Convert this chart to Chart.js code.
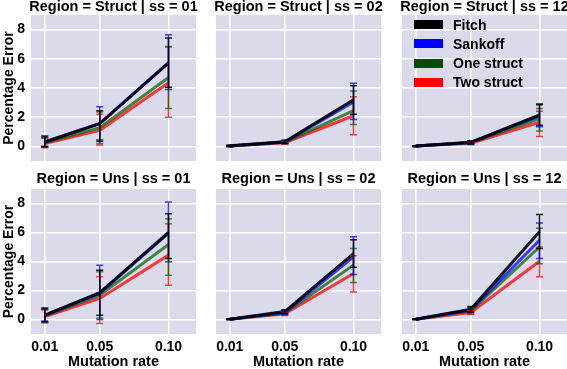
<!DOCTYPE html>
<html>
<head>
<meta charset="utf-8">
<script src="https://cdn.jsdelivr.net/npm/chart.js@4.4.0/dist/chart.umd.min.js"></script>
<style>
html,body{margin:0;padding:0;background:#ffffff;width:567px;height:369px;overflow:hidden;}
#wrap{position:relative;width:567px;height:369px;}
#wrap canvas{position:absolute;left:0;top:0;z-index:1;}
#legend{position:absolute;left:414px;top:0px;z-index:5;font:bold 14px "Liberation Sans",Arial,Helvetica,sans-serif;color:#000;}
.lrow{position:absolute;left:0;height:18px;width:130px;}
.sw{position:absolute;left:0;top:4.5px;width:29px;height:9px;}
.lb{position:absolute;left:39px;top:0;line-height:18px;white-space:nowrap;}
</style>
</head>
<body>
<div id="wrap"><div id="legend"></div></div>
<script>
// ---------- data ----------
const mutationRates = [0.01, 0.05, 0.10];
const xTickLabels = ['0.01', '0.05', '0.10'];
const yTickValues = [0, 2, 4, 6, 8];
const seriesNames = ['Fitch', 'Sankoff', 'One struct', 'Two struct'];
const regions = ['Struct', 'Uns'];
const ssLabels = ['01', '02', '12'];

// rows: Fitch, Sankoff, One struct, Two struct ; columns: mutation rates
const structSs01Mean = [[0.30, 1.55, 5.72], [0.30, 1.58, 5.74], [0.25, 1.28, 4.72], [0.20, 1.10, 4.36]];
const structSs01Low  = [[0.00, 0.35, 4.05], [0.00, 0.45, 3.90], [-0.05, 0.20, 2.60], [-0.10, 0.10, 2.00]];
const structSs01High = [[0.72, 2.45, 7.42], [0.65, 2.72, 7.65], [0.60, 2.35, 6.85], [0.55, 2.20, 6.80]];

const structSs02Mean = [[0.04, 0.32, 3.20], [0.03, 0.30, 3.05], [0.03, 0.28, 2.45], [0.02, 0.25, 2.10]];
const structSs02Low  = [[0.00, 0.22, 2.20], [0.00, 0.20, 1.85], [0.00, 0.18, 1.50], [0.00, 0.15, 0.80]];
const structSs02High = [[0.08, 0.42, 4.15], [0.07, 0.40, 4.33], [0.07, 0.38, 3.80], [0.06, 0.35, 3.40]];

const structSs12Mean = [[0.02, 0.28, 2.15], [0.02, 0.27, 2.10], [0.02, 0.25, 1.90], [0.02, 0.22, 1.65]];
const structSs12Low  = [[0.00, 0.18, 1.45], [0.00, 0.17, 1.35], [0.00, 0.15, 1.05], [0.00, 0.12, 0.68]];
const structSs12High = [[0.05, 0.38, 2.85], [0.05, 0.37, 2.92], [0.05, 0.35, 2.60], [0.05, 0.32, 2.40]];

const unsSs01Mean = [[0.30, 1.85, 6.00], [0.28, 1.80, 5.95], [0.25, 1.68, 5.17], [0.20, 1.45, 4.44]];
const unsSs01Low  = [[-0.15, 0.30, 4.20], [-0.10, 0.00, 3.98], [-0.20, 0.10, 3.05], [-0.23, -0.28, 2.37]];
const unsSs01High = [[0.80, 3.40, 7.30], [0.70, 3.75, 8.10], [0.75, 3.30, 6.95], [0.65, 2.95, 6.60]];

const unsSs02Mean = [[0.02, 0.55, 4.55], [0.02, 0.48, 4.32], [0.02, 0.45, 3.75], [0.02, 0.40, 3.17]];
const unsSs02Low  = [[0.00, 0.42, 3.60], [0.00, 0.36, 3.10], [0.00, 0.33, 2.55], [0.00, 0.28, 1.90]];
const unsSs02High = [[0.05, 0.68, 5.50], [0.05, 0.60, 5.70], [0.05, 0.57, 4.90], [0.05, 0.52, 4.40]];

const unsSs12Mean = [[0.02, 0.70, 6.05], [0.02, 0.65, 5.47], [0.02, 0.60, 5.00], [0.02, 0.48, 4.02]];
const unsSs12Low  = [[0.00, 0.50, 4.90], [0.00, 0.50, 4.20], [0.00, 0.42, 3.85], [0.00, 0.35, 2.95]];
const unsSs12High = [[0.05, 0.90, 7.25], [0.05, 0.82, 6.65], [0.05, 0.78, 6.30], [0.05, 0.62, 5.00]];

const panelMeans = [[structSs01Mean, structSs02Mean, structSs12Mean], [unsSs01Mean, unsSs02Mean, unsSs12Mean]];
const panelLows  = [[structSs01Low, structSs02Low, structSs12Low], [unsSs01Low, unsSs02Low, unsSs12Low]];
const panelHighs = [[structSs01High, structSs02High, structSs12High], [unsSs01High, unsSs02High, unsSs12High]];

// ---------- style ----------
const LINE_COLORS = ['rgba(0,0,0,0.88)', 'rgba(0,0,255,0.75)', 'rgba(0,100,0,0.72)', 'rgba(255,0,0,0.75)'];
const SWATCH_COLORS = ['#000000', '#0000ff', '#0b4a0b', '#ff0000'];
const BG = '#dadaea';
const FONT_FAMILY = '"Liberation Sans", Arial, Helvetica, sans-serif';
const W = 567, H = 369;
const COL_LEFT = [31, 216, 402];
const COL_RIGHT = [196, 381, 567];
const ROW_TOP = [15, 189];
const ROW_BOTTOM = [161, 334];
const TITLE_OFFSET = [8, 10.5];

const bgPlugin = {
  id: 'panelBg',
  beforeDraw(chart) {
    const a = chart.chartArea, ctx = chart.ctx;
    ctx.save();
    ctx.fillStyle = BG;
    ctx.fillRect(a.left, a.top, a.right - a.left, a.bottom - a.top);
    ctx.restore();
  }
};

const errPlugin = {
  id: 'errBars',
  afterDatasetsDraw(chart) {
    const ctx = chart.ctx, xs = chart.scales.x, ys = chart.scales.y;
    ctx.save();
    ctx.lineWidth = 1.5;
    for (let i = chart.data.datasets.length - 1; i >= 0; i--) {
      const ds = chart.data.datasets[i];
      ctx.strokeStyle = ds.borderColor;
      ds.data.forEach((p, j) => {
        const x = xs.getPixelForValue(p.x);
        const y1 = ys.getPixelForValue(ds.errLow[j]);
        const y2 = ys.getPixelForValue(ds.errHigh[j]);
        ctx.beginPath();
        ctx.moveTo(x, y1); ctx.lineTo(x, y2);
        ctx.moveTo(x - 3.5, y1); ctx.lineTo(x + 3.5, y1);
        ctx.moveTo(x - 3.5, y2); ctx.lineTo(x + 3.5, y2);
        ctx.stroke();
      });
    }
    ctx.restore();
  }
};

const titlePlugin = {
  id: 'panelTitle',
  afterDraw(chart) {
    const o = chart.options.plugins.panelTitle;
    const a = chart.chartArea, ctx = chart.ctx;
    ctx.save();
    ctx.font = 'bold 14.5px ' + FONT_FAMILY;
    ctx.fillStyle = '#000';
    ctx.textAlign = 'center';
    ctx.textBaseline = 'middle';
    ctx.fillText(o.text, (a.left + a.right) / 2, a.top - o.offset);
    ctx.restore();
  }
};

const wrap = document.getElementById('wrap');
for (let r = 0; r < 2; r++) {
  for (let c = 0; c < 3; c++) {
    const canvas = document.createElement('canvas');
    canvas.width = W; canvas.height = H;
    canvas.style.width = W + 'px'; canvas.style.height = H + 'px';
    wrap.appendChild(canvas);
    const means = panelMeans[r][c], lows = panelLows[r][c], highs = panelHighs[r][c];
    const datasets = seriesNames.map((name, i) => ({
      label: name,
      data: mutationRates.map((x, j) => ({ x: x, y: means[i][j] })),
      errLow: lows[i],
      errHigh: highs[i],
      borderColor: LINE_COLORS[i],
      backgroundColor: LINE_COLORS[i],
      borderWidth: 3,
      pointRadius: 0,
      fill: false,
      tension: 0
    }));
    const showX = r === 1, showY = c === 0;
    new Chart(canvas, {
      type: 'line',
      data: { datasets: datasets },
      options: {
        responsive: false,
        animation: false,
        events: [],
        layout: { padding: { left: showY ? 0 : COL_LEFT[c], right: W - COL_RIGHT[c], top: ROW_TOP[r], bottom: showX ? 0 : H - ROW_BOTTOM[r] } },
        plugins: {
          legend: { display: false },
          tooltip: { enabled: false },
          panelTitle: { text: 'Region = ' + regions[r] + ' | ss = ' + ssLabels[c], offset: TITLE_OFFSET[r] }
        },
        scales: {
          x: {
            type: 'linear', min: 0, max: 0.12,
            afterBuildTicks: s => { s.ticks = mutationRates.map(v => ({ value: v })); },
            afterFit: s => { s.height = showX ? H - ROW_BOTTOM[r] : 0; },
            grid: { color: '#ffffff', lineWidth: 1.5, drawTicks: false },
            border: { display: false },
            ticks: { display: showX, padding: 5, color: '#000', font: { family: FONT_FAMILY, size: 14, weight: 'bold' }, maxRotation: 0, callback: (v, i) => xTickLabels[i] },
            title: { display: showX, text: 'Mutation rate', color: '#000', font: { family: FONT_FAMILY, size: 14.5, weight: 'bold', lineHeight: 1 }, padding: { top: 0, bottom: 0 } }
          },
          y: {
            min: -1, max: 9,
            afterBuildTicks: s => { s.ticks = yTickValues.map(v => ({ value: v })); },
            afterFit: s => { s.width = showY ? COL_LEFT[0] : 0; },
            grid: { color: '#ffffff', lineWidth: 1.5, drawTicks: false },
            border: { display: false },
            ticks: { display: showY, padding: 6, color: '#000', font: { family: FONT_FAMILY, size: 14, weight: 'bold' }, callback: v => String(v) },
            title: { display: showY, text: 'Percentage Error', color: '#000', font: { family: FONT_FAMILY, size: 14, weight: 'bold', lineHeight: 1.2 }, padding: { top: 1, bottom: 0 } }
          }
        }
      },
      plugins: [bgPlugin, errPlugin, titlePlugin]
    });
  }
}

// legend (inside the top-right panel)
const legend = document.getElementById('legend');
const LEGEND_ROW_TOP = [15.5, 34.8, 54.2, 73.2];
seriesNames.forEach((name, i) => {
  const row = document.createElement('div');
  row.className = 'lrow';
  row.style.top = LEGEND_ROW_TOP[i] + 'px';
  const sw = document.createElement('div');
  sw.className = 'sw';
  sw.style.background = SWATCH_COLORS[i];
  const lb = document.createElement('div');
  lb.className = 'lb';
  lb.textContent = name;
  row.appendChild(sw); row.appendChild(lb);
  legend.appendChild(row);
});
</script>
</body>
</html>
